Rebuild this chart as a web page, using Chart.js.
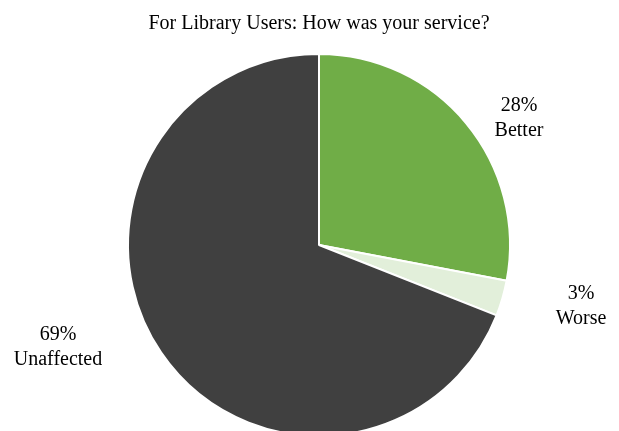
<!DOCTYPE html>
<html>
<head>
<meta charset="utf-8">
<script src="https://cdn.jsdelivr.net/npm/chart.js@4/dist/chart.umd.min.js"></script>
<style>
  html, body { margin: 0; padding: 0; background: #ffffff; overflow: hidden; width: 619px; height: 431px; }
  #wrap { position: absolute; left: 0; top: 0; width: 619px; height: 480px; }
</style>
</head>
<body>
<div id="wrap"><canvas id="c" width="619" height="480"></canvas></div>
<script>
const categories = ["Better", "Worse", "Unaffected"];
const percentages = [28, 3, 69];
const sliceColors = ["#70AD47", "#E2EFDA", "#404040"];
const chartTitle = "For Library Users: How was your service?";

// label offsets (text placement relative to the pie centre)
const labelOffsets = [[200, -127], [262, 61], [-261, 102]];

const pieLabels = {
  id: 'pieLabels',
  afterDatasetsDraw(chart) {
    const ctx = chart.ctx;
    const meta = chart.getDatasetMeta(0);
    ctx.save();
    ctx.font = '20px "Liberation Serif", "Times New Roman", serif';
    ctx.fillStyle = '#000000';
    ctx.textAlign = 'center';
    ctx.textBaseline = 'middle';
    meta.data.forEach((arc, i) => {
      const cx = arc.x + labelOffsets[i][0];
      const cy = arc.y + labelOffsets[i][1];
      ctx.fillText(percentages[i] + '%', cx, cy - 12);
      ctx.fillText(categories[i], cx, cy + 13);
    });
    ctx.restore();
  }
};

new Chart(document.getElementById('c'), {
  type: 'pie',
  data: {
    labels: categories,
    datasets: [{
      data: percentages,
      backgroundColor: sliceColors,
      borderColor: '#ffffff',
      borderWidth: 2,
      hoverOffset: 0
    }]
  },
  options: {
    responsive: false,
    animation: false,
    events: [],
    layout: { padding: { left: 127, right: 108, top: 0, bottom: 43 } },
    plugins: {
      legend: { display: false },
      tooltip: { enabled: false },
      title: {
        display: true,
        text: chartTitle,
        color: '#000000',
        font: { family: '"Liberation Serif", "Times New Roman", serif', size: 20, weight: 'normal' },
        padding: { top: 12, bottom: 17 }
      }
    }
  },
  plugins: [pieLabels]
});
</script>
</body>
</html>
